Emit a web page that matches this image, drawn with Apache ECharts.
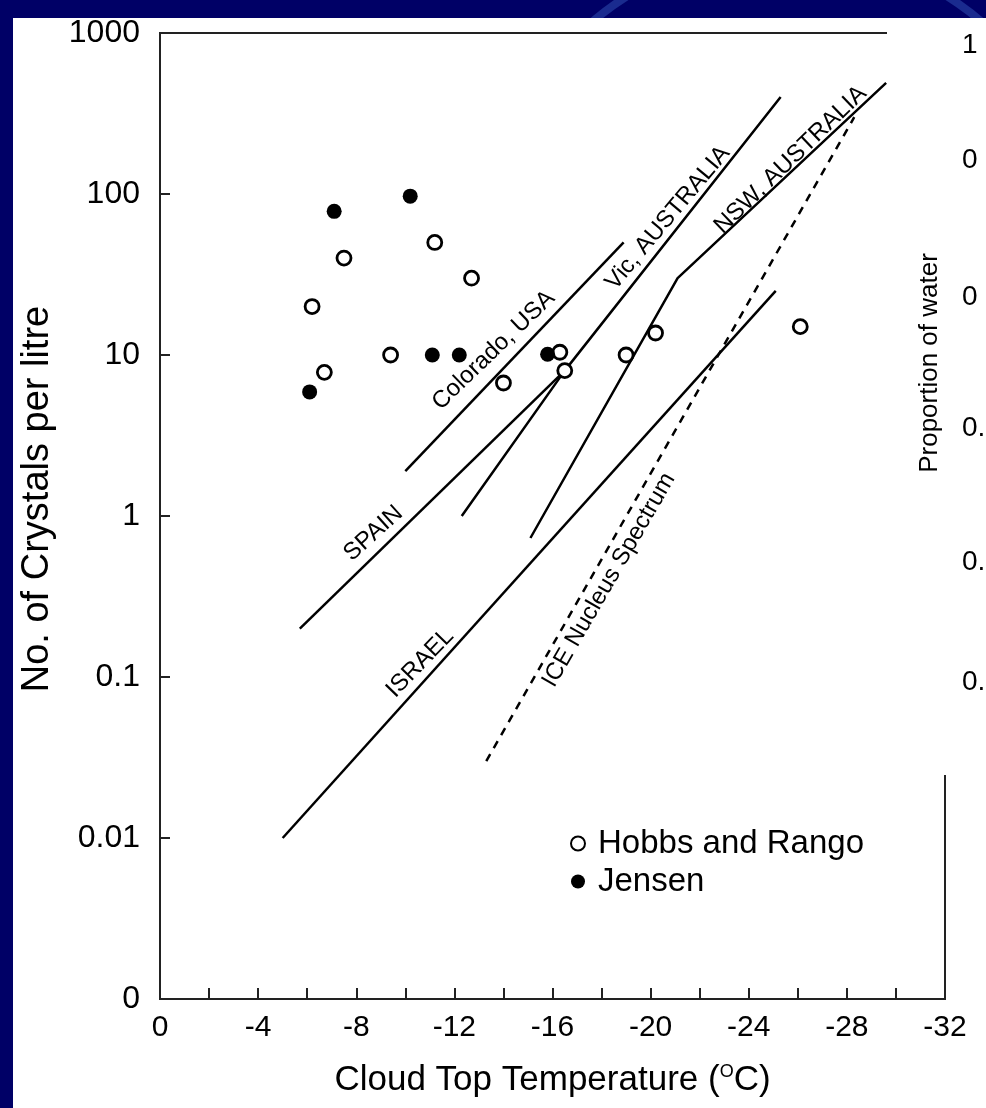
<!DOCTYPE html>
<html><head><meta charset="utf-8">
<script src="https://cdn.jsdelivr.net/npm/echarts@6/dist/echarts.min.js"></script>
<style>html,body{margin:0;padding:0;background:#000066;} #c{width:986px;height:1108px;}</style>
</head><body><div id="c"></div>
<script>
// ---- tick labels ----
const xTickLabels = ['0', '-4', '-8', '-12', '-16', '-20', '-24', '-28', '-32'];
const yTickLabels = ['0', '0.01', '0.1', '1', '10', '100', '1000']; // decades 1e-3 .. 1e3

// ---- scatter data (cloud top temperature, crystals per litre) ----
const hobbsT = [-7.5, -11.2, -12.7, -6.2, -9.4, -6.7, -14.0, -16.3, -16.5, -19.0, -20.2, -26.1];
const hobbsN = [40, 50, 30, 20, 10, 7.8, 6.7, 10.4, 8.0, 10.0, 13.7, 15];
const jensenT = [-7.1, -10.2, -11.1, -12.2, -6.1, -15.8];
const jensenN = [78, 97, 10, 10, 5.9, 10.1];

// ---- regional lines ----
const coloradoT = [-10.0, -18.9];        const coloradoN = [1.9, 50];
const spainT = [-5.7, -16.5];            const spainN = [0.2, 8.0];
const vicT = [-12.3, -16.5, -25.3];      const vicN = [1.0, 8.0, 400];
const nswT = [-15.1, -21.1, -29.6];      const nswN = [0.73, 30, 490];
const israelT = [-5.0, -25.1];           const israelN = [0.01, 25];
const iceT = [-13.3, -28.3];             const iceN = [0.03, 300];

// ---- line annotations (text, anchor T, anchor N, angle) ----
const lineLabelText = ['Colorado, USA', 'Vic, AUSTRALIA', 'NSW, AUSTRALIA', 'SPAIN', 'ISRAEL', 'ICE Nucleus Spectrum'];
const lineLabelT = [-13.6, -20.7, -25.7, -8.7, -10.6, -18.3];
const lineLabelN = [10.7, 71, 163, 0.78, 0.122, 0.40];
const lineLabelAngle = [44, 50, 44, 42, 46, 60];

// ---- partially visible neighbouring panel ----
const rightPanelTicks = ['1', '0', '0', '0.', '0.', '0.'];
const rightPanelTitle = 'Proportion of water';

const zip = (a, b) => a.map((v, i) => [v, b[i]]);
const FONT = "'Liberation Sans', Arial, Helvetica, sans-serif";
const INK = '#000000';

const lineSeries = (name, T, N, dashed) => ({
  name, type: 'line', data: zip(T, N), symbol: 'none', silent: true, z: 3,
  lineStyle: { color: INK, width: 2.5, type: dashed ? [8, 7] : 'solid' }
});

const chart = echarts.init(document.getElementById('c'), null, { renderer: 'canvas' });

const rightPanelY = [45, 160, 297, 428, 562, 682];

chart.setOption({
  backgroundColor: '#000066',
  animation: false,
  graphic: [
    { type: 'rect', z: -10, shape: { x: 13, y: 18, width: 973, height: 1090 }, style: { fill: '#ffffff' } },
    { type: 'arc', z: -11, shape: { cx: 787, cy: 250, r: 300, startAngle: -2.35, endAngle: -2.05 },
      style: { stroke: '#1a2b8f', lineWidth: 8, fill: null } },
    { type: 'arc', z: -11, shape: { cx: 787, cy: 250, r: 300, startAngle: -1.09, endAngle: -0.79 },
      style: { stroke: '#1a2b8f', lineWidth: 8, fill: null } },
    { type: 'rect', z: 100, shape: { x: 887, y: 18, width: 99, height: 757 }, style: { fill: '#ffffff' } },
    { type: 'text', z: 101, x: 930, y: 363, rotation: Math.PI / 2,
      style: { text: rightPanelTitle, font: "26px " + FONT, fill: INK, align: 'center', verticalAlign: 'middle' } }
  ].concat(rightPanelTicks.map((t, i) => ({
    type: 'text', z: 101, x: 962, y: rightPanelY[i],
    style: { text: t, font: "28px " + FONT, fill: INK, align: 'left', verticalAlign: 'middle' }
  }))),
  grid: { left: 160, right: 41, top: 33, bottom: 109, show: true, borderColor: '#222', borderWidth: 2, backgroundColor: 'transparent' },
  legend: {
    data: ['Hobbs and Rango', 'Jensen'], orient: 'vertical', left: 565, top: 822,
    itemWidth: 14, itemHeight: 14, itemGap: 5, selectedMode: false,
    textStyle: { fontSize: 33, fontFamily: FONT, color: INK, padding: [0, 0, 0, 8] }
  },
  xAxis: {
    type: 'value', min: -32, max: 0, interval: 2, inverse: true,
    axisLine: { show: true, lineStyle: { color: '#222', width: 2 } },
    axisTick: { show: true, inside: true, length: 11, lineStyle: { color: '#222', width: 2 } },
    axisLabel: { fontSize: 30, fontFamily: FONT, color: INK, margin: 14,
      formatter: v => (Math.round(v) % 4 === 0 ? xTickLabels[Math.abs(Math.round(v)) / 4] : '') },
    splitLine: { show: false },
    name: 'Cloud Top Temperature ({sup|O}C)', nameLocation: 'middle', nameGap: 64,
    nameTextStyle: { fontSize: 35, fontFamily: FONT, color: INK,
      rich: { sup: { fontSize: 18, fontFamily: FONT, color: INK, verticalAlign: 'top', lineHeight: 18 } } }
  },
  yAxis: {
    type: 'log', logBase: 10, min: 0.001, max: 1000, splitNumber: 6,
    axisLine: { show: true, lineStyle: { color: '#222', width: 2 } },
    axisTick: { show: true, inside: true, length: 10, lineStyle: { color: '#222', width: 2 } },
    axisLabel: { fontSize: 32, fontFamily: FONT, color: INK, margin: 20,
      formatter: v => yTickLabels[Math.round(Math.log10(v)) + 3] },
    splitLine: { show: false },
    name: 'No. of Crystals per litre', nameLocation: 'middle', nameGap: 103, nameRotate: 90,
    nameTextStyle: { fontSize: 38, fontFamily: FONT, color: INK, padding: [0, 0, 0, 34] }
  },
  series: [
    lineSeries('Colorado, USA', coloradoT, coloradoN),
    lineSeries('SPAIN', spainT, spainN),
    lineSeries('Vic, AUSTRALIA', vicT, vicN),
    lineSeries('NSW, AUSTRALIA', nswT, nswN),
    lineSeries('ISRAEL', israelT, israelN),
    lineSeries('ICE Nucleus Spectrum', iceT, iceN, true),
    {
      name: 'Hobbs and Rango', type: 'scatter', data: zip(hobbsT, hobbsN), symbol: 'circle', symbolSize: 14, z: 5,
      itemStyle: { color: '#ffffff', borderColor: INK, borderWidth: 2.8, opacity: 1 }
    },
    {
      name: 'Jensen', type: 'scatter', data: zip(jensenT, jensenN), symbol: 'circle', symbolSize: 15, z: 6,
      itemStyle: { color: INK, borderColor: INK, borderWidth: 0, opacity: 1 }
    },
    {
      name: 'annotations', type: 'scatter', symbolSize: 0, silent: true, z: 7,
      itemStyle: { opacity: 1 },
      data: lineLabelText.map((t, i) => ({
        value: [lineLabelT[i], lineLabelN[i]],
        label: { show: true, position: 'inside', formatter: t, rotate: lineLabelAngle[i],
          fontSize: 24, fontFamily: FONT, color: INK, opacity: 1 }
      }))
    }
  ]
});
</script></body></html>
